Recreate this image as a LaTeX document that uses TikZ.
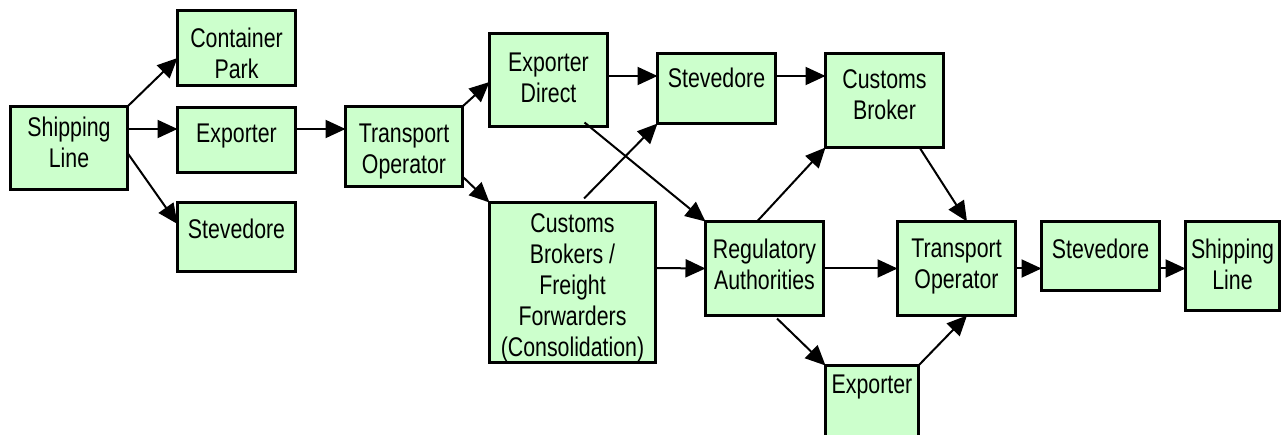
\documentclass[tikz,border=0pt]{standalone}
\usepackage{fontspec}
\setmainfont{Liberation Sans}[FakeStretch=0.79]
\usetikzlibrary{arrows.meta}
\definecolor{boxfill}{HTML}{CCFFCC}
\tikzset{
  box/.style={draw=black, line width=3pt, fill=boxfill, inner sep=0pt, outer sep=0pt},
  lbl/.style={anchor=north, align=center, inner sep=0pt, font=\fontsize{27}{31}\selectfont},
  arr/.style={line width=2pt, -{Triangle[length=20pt,width=18pt]}},
}
\begin{document}
\begin{tikzpicture}[x=1pt,y=-1pt]
\useasboundingbox (0,0) rectangle (1287,435);
\clip (0,0) rectangle (1287,435);

% boxes
\node[box, minimum width=117pt, minimum height=83pt] (sl)   at (69,148)     {};
\node[box, minimum width=118pt, minimum height=75pt] (cp)   at (236.5,48)   {};
\node[box, minimum width=118pt, minimum height=65pt] (ex)   at (236.5,140)  {};
\node[box, minimum width=118pt, minimum height=69pt] (st1)  at (236.5,237)  {};
\node[box, minimum width=117pt, minimum height=80pt] (to1)  at (404,146.5)  {};
\node[box, minimum width=118pt, minimum height=93pt] (ed)   at (548.5,80)   {};
\node[box, minimum width=118pt, minimum height=70pt] (st2)  at (716.5,88.5) {};
\node[box, minimum width=118pt, minimum height=94pt] (cb)   at (884.5,100.5){};
\node[box, minimum width=166pt, minimum height=160pt] (cbff) at (572.5,282.5){};
\node[box, minimum width=118pt, minimum height=94pt] (ra)   at (764.5,268.5){};
\node[box, minimum width=93pt,  minimum height=103pt] (ex2) at (872,417)    {};
\node[box, minimum width=118pt, minimum height=94pt] (to2)  at (956.5,268.5){};
\node[box, minimum width=118pt, minimum height=69pt] (st3)  at (1100.5,256) {};
\node[box, minimum width=94pt,  minimum height=89pt] (sl2)  at (1232.5,266) {};

% labels
\node[lbl] (tsl)   at ([yshift=-10pt]sl.north)   {Shipping\\Line};
\node[lbl] (tcp)   at ([yshift=-17pt]cp.north)   {Container\\Park};
\node[lbl] (tex)   at ([yshift=-16pt]ex.north)   {Exporter};
\node[lbl] (tst1)  at ([yshift=-16pt]st1.north)  {Stevedore};
\node[lbl] (tto1)  at ([yshift=-17pt]to1.north)  {Transport\\Operator};
\node[lbl] (ted)   at ([yshift=-19pt]ed.north)   {Exporter\\Direct};
\node[lbl] (tst2)  at ([yshift=-14pt]st2.north)  {Stevedore};
\node[lbl] (tcb)   at ([yshift=-16pt]cb.north)   {Customs\\Broker};
\node[lbl] (tcbff) at ([yshift=-11pt]cbff.north) {Customs\\Brokers /\\Freight\\Forwarders\\(Consolidation)};
\node[lbl] (tra)   at ([yshift=-17pt]ra.north)   {Regulatory\\Authorities};
\node[lbl] (tex2)  at ([yshift=-9pt]ex2.north)   {Exporter};
\node[lbl] (tto2)  at ([yshift=-17pt]to2.north)  {Transport\\Operator};
\node[lbl] (tst3)  at ([yshift=-17pt]st3.north)  {Stevedore};
\node[lbl] (tsl2)  at ([yshift=-17pt]sl2.north)  {Shipping\\Line};

% connectors
\coordinate (exin) at ([yshift=11pt]ex.west);
\draw[arr] (sl.north east) -- ([yshift=-10pt]cp.west);
\draw[arr] (sl.east |- exin) -- (exin);
\draw[arr] ([yshift=-5pt]sl.east) -- ([yshift=13pt]st1.west);
\draw[arr] ([yshift=11pt]ex.east) -- ([yshift=17.5pt]to1.west);
\draw[arr] (to1.north east) -- ([yshift=-2pt]ed.west);
\draw[arr] ([yshift=10pt]to1.south east) -- (cbff.north west);
\draw[arr] ([yshift=4pt]ed.east) -- ([yshift=12.5pt]st2.west);
\draw[arr] ([yshift=12.5pt]st2.east) -- ([yshift=24.5pt]cb.west);
\draw[arr] ([xshift=36pt,yshift=4pt]ed.south) -- (ra.north west);
\draw[arr] ([xshift=11.5pt,yshift=4pt]cbff.north) -- (st2.south west);
\draw[arr] ([xshift=-7.5pt]ra.north) -- (cb.south west);
\draw[arr] ([yshift=14.5pt]cbff.east) -- (ra.west);
\draw[arr] (ra.east) -- (to2.west);
\draw[arr] ([xshift=12.5pt,yshift=-3pt]ra.south) -- (ex2.north west);
\draw[arr] ([xshift=-24pt]cb.south east) -- ([xshift=10.5pt]to2.north);
\draw[arr] (ex2.north east) -- ([xshift=10.5pt]to2.south);
\draw[arr] (to2.east) -- (st3.west |- to2.east);
\draw[arr] (st3.east |- to2.east) -- (sl2.west |- to2.east);
\end{tikzpicture}
\end{document}
